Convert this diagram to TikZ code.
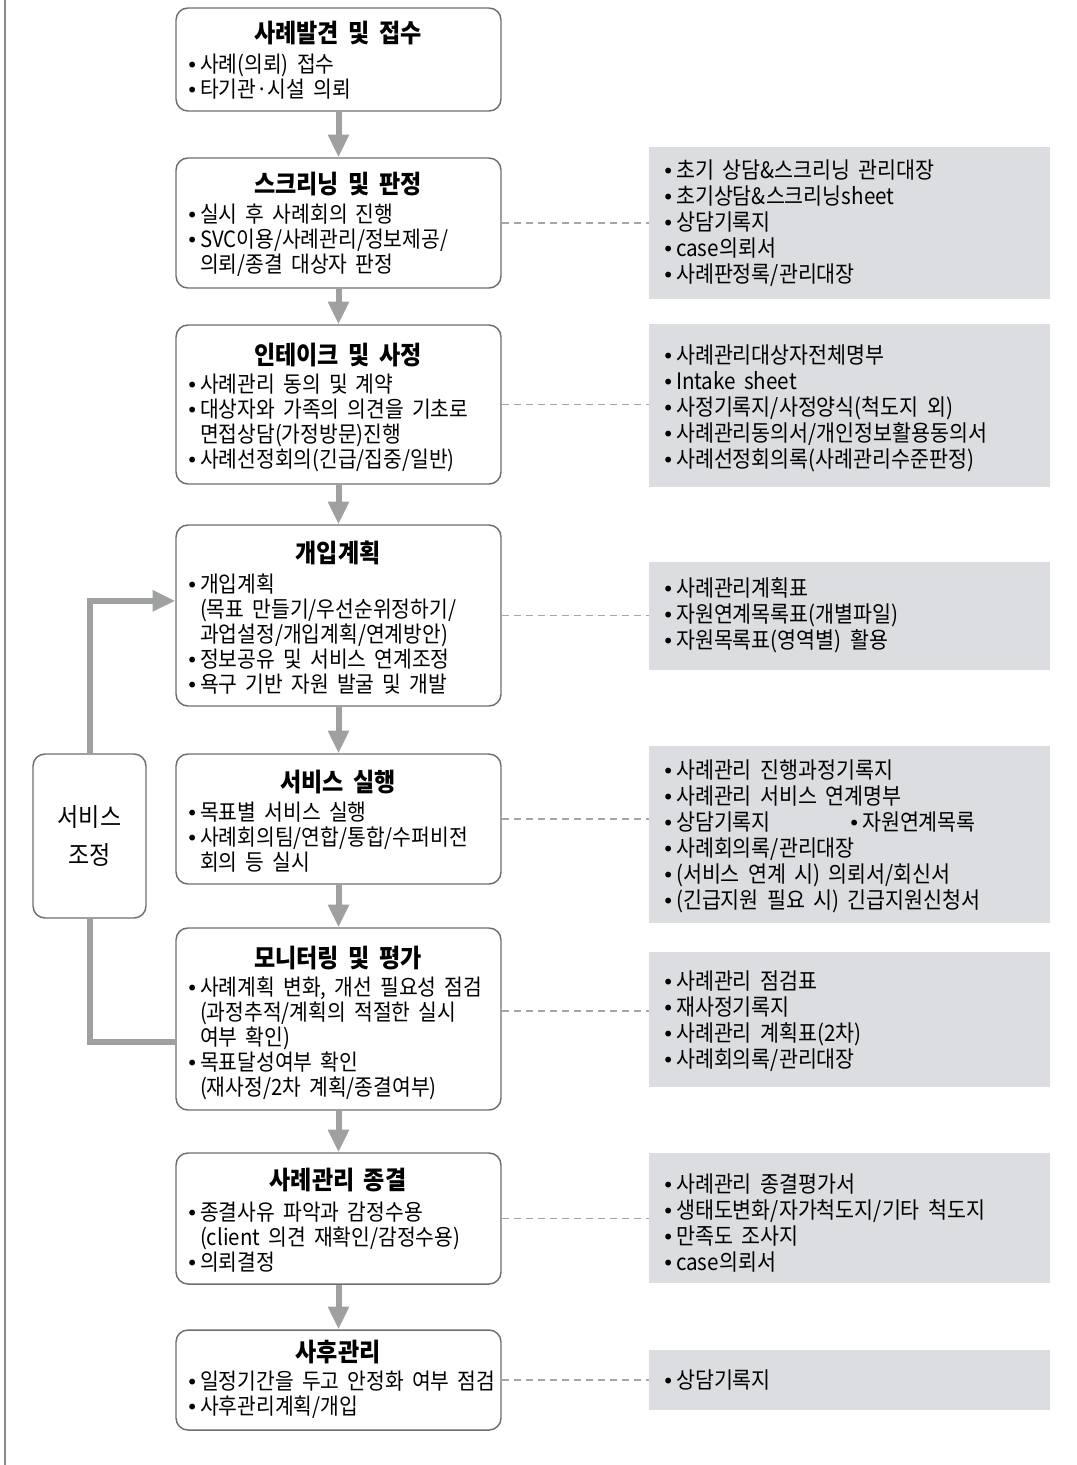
\documentclass[tikz,border=0pt]{standalone}
\usepackage{fontspec}
\setmainfont{Noto Sans CJK KR}[WordSpace=1.8, FakeStretch=0.91]
\newfontfamily\bulletfont{DejaVu Sans}
\usetikzlibrary{arrows.meta,fit}

\definecolor{boxgray}{HTML}{6E6E6E}
\definecolor{arrowgray}{HTML}{9FA0A2}
\definecolor{panelgray}{HTML}{DCDDE0}
\definecolor{dashgray}{HTML}{A6A6A6}

\newcommand{\bul}{{\bulletfont\fontsize{15}{15}\selectfont •}\hspace{1.5pt}}
\newcommand{\ind}{\hphantom{\bul}}

\tikzset{
  stepbox/.style={draw=boxgray, line width=1.1pt, rounded corners=9pt, inner sep=0pt},
  formbox/.style={fill=panelgray, inner sep=0pt},
  heading/.style={font=\bfseries\fontsize{19}{22}\selectfont, inner sep=0pt},
  steptext/.style={font=\fontsize{16.8}{18.75}\selectfont, align=left, anchor=west, inner sep=0pt},
  formtext/.style={font=\fontsize{17}{19.5}\selectfont, align=left, anchor=west, inner sep=0pt},
  flow/.style={draw=arrowgray, line width=4.5pt, -{Triangle[length=17pt,width=15pt]}},
  loopline/.style={draw=arrowgray, line width=4.5pt},
  link/.style={draw=dashgray, line width=0.8pt, dash pattern=on 5.5pt off 3.5pt}
}

\begin{document}
\begin{tikzpicture}[x=0.75pt, y=-0.75pt]
\useasboundingbox (0,0) rectangle (1076,1465);
\draw [boxgray!80, line width=1.2pt] (5,0) -- (5,1465);

% main steps
\node[stepbox, fit={(176,8) (501,111)}] (discover) {};
\node[heading] (discover-t) at (338,33) {사례발견 및 접수};
\node[steptext] (discover-b) at (186,76.5) {\bul 사례(의뢰) 접수\\\bul 타기관·시설 의뢰};

\node[stepbox, fit={(176,158) (501,288)}] (screen) {};
\node[heading] (screen-t) at (338,184) {스크리닝 및 판정};
\node[steptext] (screen-b) at (186,240) {\bul 실시 후 사례회의 진행\\\bul SVC이용/사례관리/정보제공/\\\ind 의뢰/종결 대상자 판정};

\node[stepbox, fit={(176,325) (501,484)}] (intake) {};
\node[heading] (intake-t) at (338,355) {인테이크 및 사정};
\node[steptext] (intake-b) at (186,423) {\bul 사례관리 동의 및 계약\\\bul 대상자와 가족의 의견을 기초로\\\ind 면접상담(가정방문)진행\\\bul 사례선정회의(긴급/집중/일반)};

\node[stepbox, fit={(176,525) (501,706)}] (plan) {};
\node[heading] (plan-t) at (338,553) {개입계획};
\node[steptext] (plan-b) at (186,634) {\bul 개입계획\\\ind (목표 만들기/우선순위정하기/\\\ind 과업설정/개입계획/연계방안)\\\bul 정보공유 및 서비스 연계조정\\\bul 욕구 기반 자원 발굴 및 개발};

\node[stepbox, fit={(176,754) (501,884)}] (service) {};
\node[heading] (service-t) at (338,782) {서비스 실행};
\node[steptext] (service-b) at (186,837) {\bul 목표별 서비스 실행\\\bul 사례회의팀/연합/통합/수퍼비전\\\ind 회의 등 실시};

\node[stepbox, fit={(176,928) (501,1110)}] (monitor) {};
\node[heading] (monitor-t) at (338,958) {모니터링 및 평가};
\node[steptext] (monitor-b) at (186,1038.5) {\bul 사례계획 변화, 개선 필요성 점검\\\ind (과정추적/계획의 적절한 실시\\\ind 여부 확인)\\\bul 목표달성여부 확인\\\ind (재사정/2차 계획/종결여부)};

\node[stepbox, fit={(176,1153) (501,1284)}] (close) {};
\node[heading] (close-t) at (338,1180) {사례관리 종결};
\node[steptext] (close-b) at (186,1237) {\bul 종결사유 파악과 감정수용\\\ind (client 의견 재확인/감정수용)\\\bul 의뢰결정};

\node[stepbox, fit={(176,1330) (501,1430)}] (after) {};
\node[heading] (after-t) at (338,1352) {사후관리};
\node[steptext] (after-b) at (186,1395) {\bul 일정기간을 두고 안정화 여부 점검\\\bul 사후관리계획/개입};

% service coordination
\node[stepbox, fit={(33,754) (146,918)}] (adjust) {};
\node[font=\fontsize{19}{29}\selectfont, align=center, inner sep=0pt] (adjust-t) at (adjust.center) {서비스\\조정};

% forms
\node[formbox, fit={(649,147) (1050,299)}] (form-screen) {};
\node[formtext] (form-screen-t) at (662,223.5) {\bul 초기 상담\&스크리닝 관리대장\\\bul 초기상담\&스크리닝sheet\\\bul 상담기록지\\\bul case의뢰서\\\bul 사례판정록/관리대장};

\node[formbox, fit={(649,324) (1050,487)}] (form-intake) {};
\node[formtext] (form-intake-t) at (662,408.5) {\bul 사례관리대상자전체명부\\\bul Intake sheet\\\bul 사정기록지/사정양식(척도지 외)\\\bul 사례관리동의서/개인정보활용동의서\\\bul 사례선정회의록(사례관리수준판정)};

\node[formbox, fit={(649,562) (1050,670)}] (form-plan) {};
\node[formtext] (form-plan-t) at (662,615.5) {\bul 사례관리계획표\\\bul 자원연계목록표(개별파일)\\\bul 자원목록표(영역별) 활용};

\node[formbox, fit={(649,746) (1050,923)}] (form-service) {};
\node[formtext] (form-service-t) at (662,836.5) {\bul 사례관리 진행과정기록지\\\bul 사례관리 서비스 연계명부\\\makebox[139.5pt][l]{\bul 상담기록지}\bul 자원연계목록\\\bul 사례회의록/관리대장\\\bul (서비스 연계 시) 의뢰서/회신서\\\bul (긴급지원 필요 시) 긴급지원신청서};

\node[formbox, fit={(649,952) (1050,1087)}] (form-monitor) {};
\node[formtext] (form-monitor-t) at (662,1021) {\bul 사례관리 점검표\\\bul 재사정기록지\\\bul 사례관리 계획표(2차)\\\bul 사례회의록/관리대장};

\node[formbox, fit={(649,1153) (1050,1283)}] (form-close) {};
\node[formtext] (form-close-t) at (662,1223.5) {\bul 사례관리 종결평가서\\\bul 생태도변화/자가척도지/기타 척도지\\\bul 만족도 조사지\\\bul case의뢰서};

\node[formbox, fit={(649,1350) (1050,1410)}] (form-after) {};
\node[formtext] (form-after-t) at (662,1380) {\bul 상담기록지};

% arrows
\foreach \a/\b in {discover/screen, screen/intake, intake/plan, plan/service, service/monitor, monitor/close, close/after} {
    \draw[flow] (\a) -- (\b);
}
\draw[flow] (adjust.north) |- ([yshift=11pt]plan.west);
\draw[loopline] ([yshift=-17pt]monitor.west) -| (adjust.south);

% links to forms
\foreach \s in {screen, intake, plan, service, close, after} {
    \draw[link] (\s.east) -- (\s.east -| form-\s.west);
}
\draw[link] ([yshift=6pt]monitor.east) -- ([yshift=6pt]monitor.east -| form-monitor.west);
\end{tikzpicture}
\end{document}
